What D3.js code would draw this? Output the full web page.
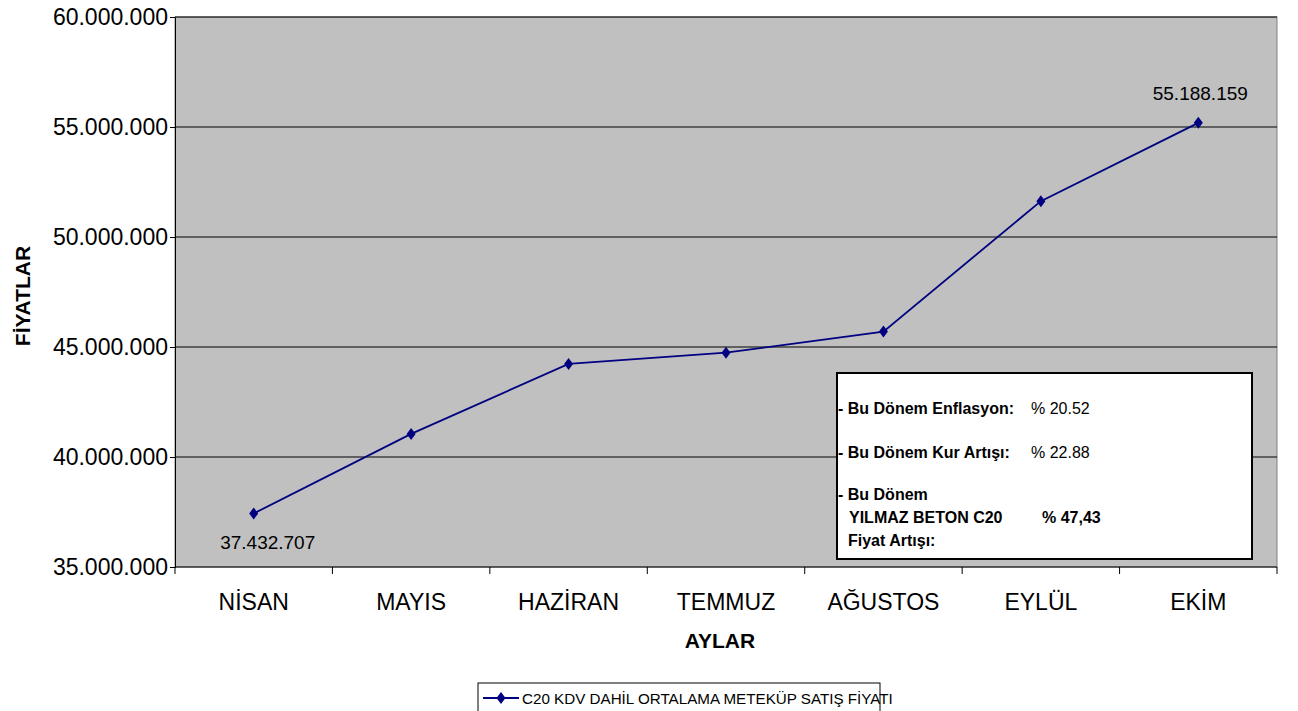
<!DOCTYPE html>
<html>
<head>
<meta charset="utf-8">
<script src="https://cdn.jsdelivr.net/npm/d3@7"></script>
<style>
  body { margin: 0; background: #fff; }
  text { font-family: "Liberation Sans", Arial, sans-serif; }
</style>
</head>
<body>
<div id="chart"></div>
<script>
var months = ["NİSAN", "MAYIS", "HAZİRAN", "TEMMUZ", "AĞUSTOS", "EYLÜL", "EKİM"];
var prices = [37432707, 41050000, 44230000, 44740000, 45700000, 51630000, 55188159];
var yTicks = [35000000, 40000000, 45000000, 50000000, 55000000, 60000000];
var seriesName = "C20 KDV DAHİL ORTALAMA METEKÜP SATIŞ FİYATI";
var noteLines = [
  { label: "- Bu Dönem Enflasyon:", value: "% 20.52" },
  { label: "- Bu Dönem Kur Artışı:", value: "% 22.88" }
];

var W = 1298, H = 711;
var margin = {top: 17, right: 21, bottom: 144, left: 175},
  width = W - margin.left - margin.right,
  height = H - margin.top - margin.bottom;

var svg = d3.select("#chart").append("svg")
  .attr("width", W).attr("height", H);

var g = svg.append("g")
  .attr("transform", "translate(" + margin.left + "," + margin.top + ")");

var x = d3.scaleBand().domain(months).range([0, width]);
var y = d3.scaleLinear().domain([35000000, 60000000]).range([height, 0]);

var fmt = function(v) { return d3.format(",")(v).replace(/,/g, "."); };

// plot background
g.append("rect").attr("width", width).attr("height", height)
  .attr("fill", "#c0c0c0").attr("stroke", "#808080");

// gridlines
g.selectAll(".grid").data(yTicks.slice(1)).enter().append("line")
  .attr("x1", 0).attr("x2", width)
  .attr("y1", function(d) { return y(d); }).attr("y2", function(d) { return y(d); })
  .attr("stroke", "#000").attr("stroke-width", 1);

// y axis
var yAxis = g.append("g")
  .call(d3.axisLeft(y).tickValues(yTicks).tickSize(5).tickFormat(fmt));
yAxis.selectAll("text").style("font-size", "23px").attr("fill", "#000").attr("dx", "1");
yAxis.selectAll("line").attr("stroke", "#000");
yAxis.select(".domain").attr("stroke", "#000");

// x axis, ticks sit on the category boundaries
var xAxis = g.append("g").attr("transform", "translate(0," + height + ")");
xAxis.append("line").attr("x1", 0).attr("x2", width).attr("stroke", "#000");
var bounds = months.map(function(m) { return x(m); }).concat([width]);
xAxis.selectAll(".tk").data(bounds).enter().append("line")
  .attr("x1", function(d) { return d; }).attr("x2", function(d) { return d; })
  .attr("y1", 0).attr("y2", 7).attr("stroke", "#000");
xAxis.selectAll(".lbl").data(months).enter().append("text")
  .attr("x", function(d) { return x(d) + x.bandwidth() / 2; })
  .attr("y", 43).attr("text-anchor", "middle")
  .style("font-size", "23px").text(function(d) { return d; });

// axis titles
svg.append("text").attr("x", 720).attr("y", 648)
  .attr("text-anchor", "middle").style("font-size", "21px").style("font-weight", "bold")
  .text("AYLAR");
svg.append("text").attr("transform", "translate(30,296) rotate(-90)")
  .attr("text-anchor", "middle").style("font-size", "21px").style("font-weight", "bold")
  .text("FİYATLAR");

// line + markers
var cx = function(i) { return x(months[i]) + x.bandwidth() / 2; };
var line = d3.line().x(function(d, i) { return cx(i); }).y(function(d) { return y(d); });
g.append("path").datum(prices).attr("d", line)
  .attr("fill", "none").attr("stroke", "#000080").attr("stroke-width", 1.8);

var diamond = "M0,-6L4.5,0L0,6L-4.5,0Z";
g.selectAll(".pt").data(prices).enter().append("path")
  .attr("d", diamond)
  .attr("transform", function(d, i) { return "translate(" + cx(i) + "," + y(d) + ")"; })
  .attr("fill", "#000080");

// labels on first and last point
[0, prices.length - 1].forEach(function(i) {
  g.append("text")
    .attr("x", cx(i) + (i === 0 ? 14 : 2))
    .attr("y", y(prices[i]) + (i === 0 ? 36 : -23))
    .attr("text-anchor", "middle").style("font-size", "19px")
    .text(fmt(prices[i]));
});

// note box
var box = svg.append("g").attr("transform", "translate(837,373)");
box.append("rect").attr("width", 415).attr("height", 186)
  .attr("fill", "#fff").attr("stroke", "#000").attr("stroke-width", 2);
noteLines.forEach(function(n, i) {
  var by = 41 + i * 44;
  box.append("text").attr("x", 1).attr("y", by).style("font-size", "16px")
    .style("font-weight", "bold").text(n.label);
  box.append("text").attr("x", 194).attr("y", by).style("font-size", "16px")
    .text(n.value);
});
box.append("text").attr("x", 1).attr("y", 127).style("font-size", "16px")
  .style("font-weight", "bold").text("- Bu Dönem");
box.append("text").attr("x", 12).attr("y", 150).style("font-size", "16px")
  .style("font-weight", "bold").text("YILMAZ BETON C20");
box.append("text").attr("x", 205).attr("y", 150).style("font-size", "16px")
  .style("font-weight", "bold").text("% 47,43");
box.append("text").attr("x", 11).attr("y", 173).style("font-size", "16px")
  .style("font-weight", "bold").text("Fiyat Artışı:");

// legend
var lg = svg.append("g").attr("transform", "translate(478,683)");
lg.append("rect").attr("width", 402).attr("height", 40)
  .attr("fill", "#fff").attr("stroke", "#000");
lg.append("line").attr("x1", 5).attr("x2", 41).attr("y1", 15).attr("y2", 15)
  .attr("stroke", "#000080").attr("stroke-width", 2);
lg.append("path").attr("d", diamond).attr("transform", "translate(23,15)").attr("fill", "#000080");
lg.append("text").attr("x", 44).attr("y", 21).style("font-size", "15.2px").text(seriesName);
</script>
</body>
</html>
